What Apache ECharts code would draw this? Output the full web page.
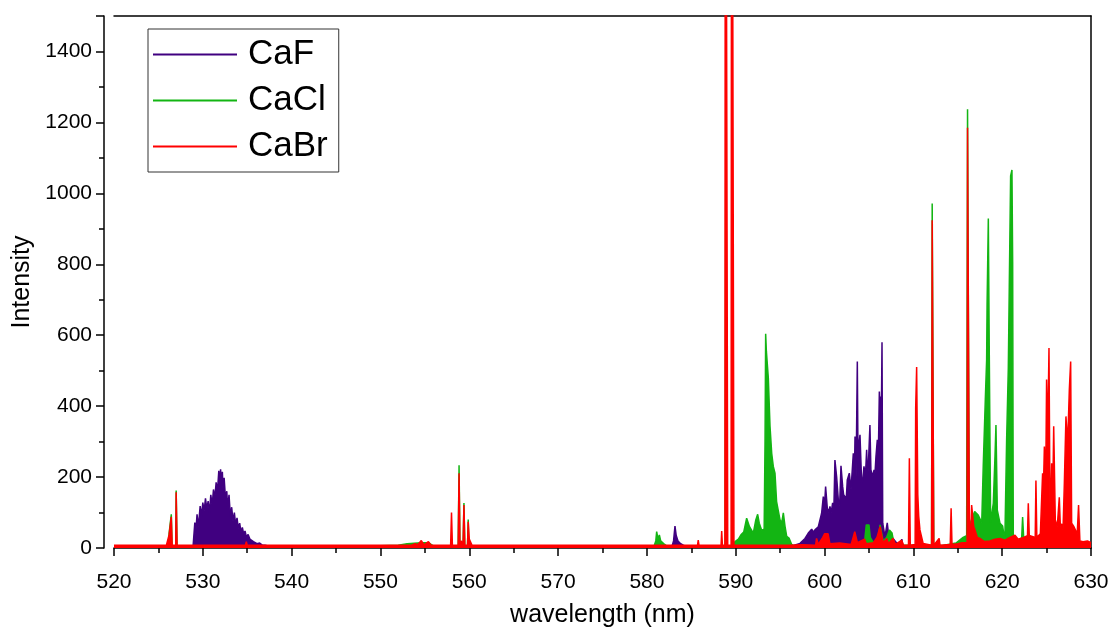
<!DOCTYPE html>
<html>
<head>
<meta charset="utf-8">
<script src="https://cdn.jsdelivr.net/npm/echarts@6/dist/echarts.min.js"></script>
<style>
  html, body { margin: 0; padding: 0; background: #fff; }
  #chart { width: 1113px; height: 628px; }
</style>
</head>
<body>
<div id="chart"></div>
<script>
// 光谱数据：波长 (nm) 与强度
var seriesNames = ['CaF', 'CaCl', 'CaBr'];

var cafNm = [520, 528.9, 529.0, 529.1, 529.2, 529.35, 529.5, 529.7, 529.85, 530.0, 530.15, 530.3, 530.45, 530.6, 530.75,
  530.9, 531.05, 531.2, 531.35, 531.5, 531.65, 531.8, 531.9, 532.0, 532.1, 532.2, 532.3, 532.4, 532.55, 532.7, 532.8,
  532.95, 533.1, 533.25, 533.4, 533.55, 533.7, 533.85, 534.0, 534.15, 534.3, 534.45, 534.6, 534.75, 534.9, 535.1,
  535.3, 535.5, 535.7, 535.9, 536.1, 536.4, 536.7, 537.0, 537.5, 538,
  582.8, 583.0, 583.16, 583.3, 583.5, 583.8, 584.1, 584.5,
  596.3, 596.6, 597.24, 597.8, 598.17, 598.55, 598.75, 598.92, 599.1, 599.3, 599.5, 599.67, 599.86, 600.0, 600.12,
  600.31, 600.45, 600.61, 600.75, 600.91, 601.05, 601.17, 601.36, 601.55, 601.7, 601.85, 602.04, 602.15, 602.3,
  602.45, 602.56, 602.79, 602.98, 603.1, 603.24, 603.35, 603.43, 603.55, 603.69, 603.78, 603.84, 603.99, 604.18,
  604.3, 604.44, 604.6, 604.74, 604.85, 604.93, 605.11, 605.22, 605.34, 605.45, 605.57, 605.68, 605.79, 605.94,
  606.05, 606.17, 606.25, 606.32, 606.4, 606.47, 606.55, 606.8, 607.06, 607.2, 607.37, 607.55, 607.74, 608.12,
  608.5, 608.7, 608.8, 609.2, 626.7, 626.8, 626.9, 630];
var cafVal = [4, 4, 5, 72, 40, 95, 60, 118, 90, 128, 105, 140, 110, 132, 100,
  150, 120, 165, 140, 185, 160, 218, 170, 222, 175, 215, 150, 198, 140, 160, 110,
  150, 90, 115, 75, 100, 65, 85, 55, 70, 45, 58, 40, 48, 32, 38,
  25, 28, 18, 20, 12, 14, 8, 8, 5, 3,
  3, 20, 62, 35, 20, 12, 8, 3,
  3, 8, 13, 27, 42, 53, 45, 51, 48, 60, 55, 98, 145, 120, 173,
  112, 100, 117, 100, 127, 110, 248, 201, 136, 120, 232, 173, 150, 154,
  140, 192, 211, 164, 160, 267, 180, 314, 200, 526, 200, 286, 319, 183,
  190, 230, 200, 277, 200, 230, 347, 220, 211, 200, 220, 210, 258, 305,
  250, 441, 380, 427, 380, 580, 70, 32, 71, 40, 41, 32, 27, 14,
  10, 25, 8, 4, 4, 22, 4, 4];

var caclNm = [520, 526.1, 526.2, 526.35, 526.45, 526.55, 526.95, 527.0, 527.1, 548, 552, 553, 554.6, 555.4, 556,
  558.75, 558.85, 558.95, 559.3, 559.4, 559.5, 559.8, 559.88, 559.95,
  580.8, 581.0, 581.1, 581.25, 581.4, 581.55, 581.7, 582.0, 582.3,
  588.8, 588.9, 588.98, 589.55, 589.6, 589.65, 589.92, 590.3, 590.59, 590.9, 591.23, 591.4, 591.55, 591.7,
  591.98, 592.25, 592.47, 592.65, 592.92, 593.2, 593.3, 593.37, 593.45, 593.55, 593.67, 593.86, 594.05, 594.23,
  594.42, 594.6, 594.8, 594.98, 595.17, 595.36, 595.55, 595.74, 596.0, 596.3, 596.6,
  603.1, 603.3, 603.5, 604.5, 604.7, 605.0, 605.15, 605.5, 606.0, 606.25, 606.45, 606.6, 607.0, 607.3, 607.6,
  607.8, 608.2, 612.05, 612.12, 612.22, 612.3, 613.3, 614.8, 615.6, 616.0, 616.1, 616.2, 616.3, 616.4, 616.9,
  617.3, 617.7, 617.87, 618.1, 618.25, 618.3, 618.44, 618.55, 618.7, 619.0, 619.19, 619.3, 619.45, 619.75,
  620.05, 620.3, 620.5, 620.69, 620.8, 620.95, 621.1, 621.18, 621.25, 621.8, 622.2, 622.3, 622.45, 623.0, 630];
var caclVal = [5, 5, 40, 38, 95, 5, 5, 162, 5, 5, 8, 12, 15, 15, 5,
  5, 233, 5, 5, 127, 5, 5, 80, 5,
  5, 20, 46, 25, 37, 20, 20, 10, 4,
  5, 1420, 5, 5, 1300, 5, 18, 25, 37, 45, 84, 89, 60, 55,
  42, 78, 95, 70, 50, 53, 300, 604, 555, 555, 479, 343, 267, 230,
  211, 131, 126, 80, 70, 99, 61, 33, 28, 10, 5,
  5, 25, 8, 15, 65, 65, 30, 15, 20, 65, 60, 20, 30, 51, 42,
  15, 8, 8, 971, 971, 8, 7, 14, 30, 35, 1237, 1237, 60, 70, 103,
  93, 72, 234, 418, 531, 686, 929, 540, 72, 126, 258, 347, 107, 70,
  62, 20, 305, 507, 738, 1049, 1066, 804, 20, 14, 30, 87, 14, 10, 10];

var cabrNm = [520, 525.9, 526.1, 526.2, 526.35, 526.45, 526.55, 526.95, 527.0, 527.1, 534.8, 534.9, 535.0,
  553.5, 553.9, 554.2, 554.6, 554.9, 555.4, 555.7, 557.9, 558.0, 558.1, 558.75, 558.85, 558.95, 559.1, 559.3,
  559.4, 559.5, 559.8, 559.88, 560.0, 560.15, 560.3, 585.7, 585.78, 585.86, 588.35, 588.42, 588.5,
  588.78, 588.84, 589.04, 589.1, 589.48, 589.54, 589.74, 589.8, 593.2, 593.3, 593.4,
  596, 597.5, 599.0, 599.1, 599.3, 599.8, 600.0, 600.2, 600.4, 600.6, 601.7, 603.0, 603.4, 603.7, 604.5, 604.7,
  605.5, 605.9, 606.25, 606.45, 606.6, 607.0, 607.2, 607.4, 607.7, 608.0, 608.68, 608.9,
  609.45, 609.55, 609.65, 610.2, 610.26, 610.37, 610.5, 610.6, 610.74, 611.1, 612.05, 612.12, 612.22, 612.3,
  612.9, 613.0, 614.15, 614.25, 614.35, 615.0, 615.5, 616.05, 616.1, 616.2, 616.3, 616.45, 616.56, 616.7,
  616.8, 616.94, 617.2, 617.5, 618.0, 618.6, 619.2, 619.75, 620.3, 620.88, 621.44, 621.8, 622.4, 622.85,
  622.94, 623.05, 623.2, 623.72, 623.8, 623.9, 624.06, 624.3, 624.55, 624.63, 624.75, 624.9, 625.0, 625.12,
  625.27, 625.38, 625.5, 625.57, 625.68, 625.8, 625.98, 626.2, 626.43, 626.55, 626.7, 626.85, 627.0, 627.18,
  627.37, 627.56, 627.71, 627.82, 628.08, 628.3, 628.45, 628.6, 628.75, 629.1, 629.3, 629.6, 630];
var cabrVal = [8, 8, 8, 37, 36, 88, 8, 8, 157, 8, 8, 18, 8,
  8, 12, 9, 21, 9, 18, 8, 8, 100, 8, 8, 211, 8, 20, 8,
  121, 8, 8, 74, 25, 25, 8, 8, 22, 8, 8, 48, 8,
  8, 3000, 3000, 8, 8, 3000, 3000, 8, 8, 12, 8,
  8, 9, 8, 27, 10, 30, 40, 37, 40, 12, 14, 10, 46, 15, 25, 12,
  15, 30, 60, 55, 15, 27, 12, 17, 27, 10, 22, 8,
  8, 253, 8, 10, 394, 510, 150, 90, 51, 13, 8, 924, 924, 8,
  27, 8, 10, 112, 10, 12, 15, 15, 1185, 1185, 70, 40, 121, 118,
  60, 51, 30, 27, 18, 20, 25, 27, 22, 30, 36, 25, 30, 35,
  126, 35, 35, 30, 190, 30, 30, 40, 211, 150, 286, 180, 475, 300,
  564, 126, 160, 239, 120, 343, 79, 60, 143, 60, 68, 50, 183, 371,
  291, 446, 526, 70, 60, 60, 40, 121, 20, 18, 20, 20, 15];

var seriesColors = ['#400080', '#13b513', '#ff0000'];

function zip(xs, ys) {
  var out = [];
  for (var i = 0; i < xs.length; i++) out.push([xs[i], ys[i]]);
  return out;
}

var chart = echarts.init(document.getElementById('chart'), null, { renderer: 'canvas' });
var font = 'Liberation Sans, Arial, sans-serif';
var axisCol = '#000';

// z 分层：后画的序列整体盖住前面的（线和填充一起）
function spectrum(name, xs, ys, color, z) {
  return {
    name: name,
    type: 'line',
    z: z,
    showSymbol: false,
    symbol: 'none',
    clip: true,
    lineStyle: { color: color, width: 1.5 },
    itemStyle: { color: color },
    areaStyle: { color: color, opacity: 1 },
    data: zip(xs, ys)
  };
}

function plain(v) { return String(v); }

var option = {
  animation: false,
  backgroundColor: '#fff',
  textStyle: { fontFamily: font },
  grid: { left: 114, right: 22, top: 16, bottom: 80, containLabel: false, outerBoundsMode: 'none' },
  legend: {
    data: seriesNames,
    orient: 'vertical',
    left: 148,
    top: 29,
    z: 20,
    padding: [8, 11, 8, 5],
    itemGap: 11,
    itemWidth: 84,
    itemHeight: 2,
    icon: 'rect',
    borderColor: '#333',
    borderWidth: 1,
    backgroundColor: '#fff',
    selectedMode: false,
    textStyle: { fontSize: 35, color: '#000', fontFamily: font, padding: [0, 0, 0, 6] }
  },
  xAxis: [{
    type: 'value',
    min: 520,
    max: 630,
    interval: 10,
    name: 'wavelength (nm)',
    nameLocation: 'middle',
    nameGap: 55,
    nameTextStyle: { fontSize: 25, color: '#000', fontFamily: font },
    axisLine: { show: true, lineStyle: { color: axisCol, width: 1.5 } },
    axisTick: { show: true, inside: false, length: 8, lineStyle: { color: axisCol, width: 1.5 } },
    minorTick: { show: true, splitNumber: 2, length: 5, lineStyle: { color: axisCol, width: 1.5 } },
    axisLabel: { fontSize: 21, color: '#000', margin: 24, fontFamily: font, formatter: plain },
    splitLine: { show: false }
  }, {
    type: 'value',
    position: 'top',
    min: 520,
    max: 630,
    axisLine: { show: true, onZero: false, lineStyle: { color: axisCol, width: 1.5 } },
    axisTick: { show: false },
    axisLabel: { show: false },
    splitLine: { show: false }
  }],
  yAxis: [{
    type: 'value',
    min: 0,
    max: 1500,
    interval: 200,
    offset: 10,
    name: 'Intensity',
    nameLocation: 'middle',
    nameGap: 66,
    nameTextStyle: { fontSize: 25, color: '#000', fontFamily: font },
    axisLine: { show: true, lineStyle: { color: axisCol, width: 1.5 } },
    axisTick: { show: true, inside: false, length: 8, lineStyle: { color: axisCol, width: 1.5 } },
    minorTick: { show: true, splitNumber: 2, length: 5, lineStyle: { color: axisCol, width: 1.5 } },
    axisLabel: { fontSize: 21, color: '#000', margin: 12, showMaxLabel: false, fontFamily: font, formatter: plain },
    splitLine: { show: false }
  }, {
    type: 'value',
    position: 'right',
    min: 0,
    max: 1500,
    axisLine: { show: true, onZero: false, lineStyle: { color: axisCol, width: 1.5 } },
    axisTick: { show: false },
    axisLabel: { show: false },
    splitLine: { show: false }
  }],
  series: [
    spectrum(seriesNames[0], cafNm, cafVal, seriesColors[0], 2),
    spectrum(seriesNames[1], caclNm, caclVal, seriesColors[1], 3),
    spectrum(seriesNames[2], cabrNm, cabrVal, seriesColors[2], 4)
  ]
};

chart.setOption(option);
</script>
</body>
</html>
